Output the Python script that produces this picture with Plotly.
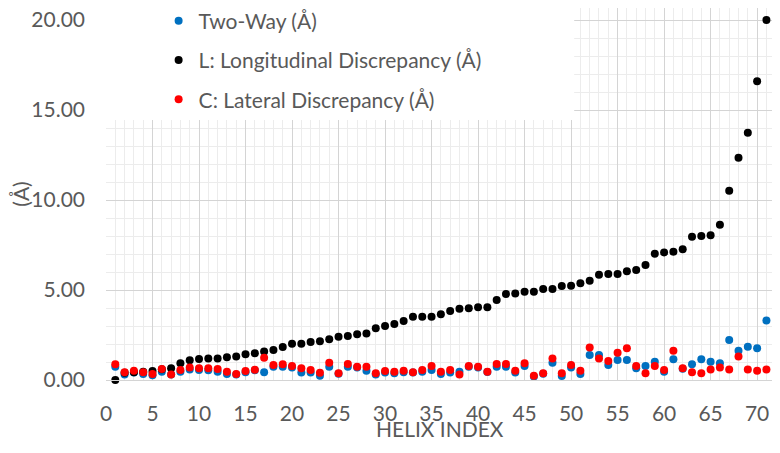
import plotly.graph_objects as go

# helix index 1..71
helix_index = list(range(1, 72))

# Two-Way (Å)
two_way = [
    0.74, 0.31, 0.42, 0.33, 0.26, 0.46, 0.30, 0.46, 0.59, 0.56,
    0.54, 0.46, 0.33, 0.30, 0.43, 0.54, 0.43, 0.74, 0.74, 0.69,
    0.41, 0.41, 0.24, 0.74, 0.35, 0.74, 0.70, 0.52, 0.30, 0.41,
    0.37, 0.43, 0.41, 0.46, 0.56, 0.33, 0.41, 0.46, 0.74, 0.70,
    0.44, 0.74, 0.74, 0.41, 0.78, 0.20, 0.35, 0.96, 0.22, 0.70,
    0.33, 1.39, 1.39, 0.83, 1.11, 1.11, 0.65, 0.78, 1.02, 0.46,
    1.15, 0.62, 0.87, 1.15, 1.02, 0.93, 2.22, 1.63, 1.85, 1.76,
    3.30,
]

# L: Longitudinal Discrepancy (Å)
longitudinal = [
    0.00, 0.40, 0.43, 0.46, 0.50, 0.60, 0.65, 0.93, 1.10, 1.17,
    1.19, 1.20, 1.26, 1.30, 1.43, 1.48, 1.59, 1.67, 1.83, 2.02,
    2.02, 2.11, 2.15, 2.26, 2.41, 2.44, 2.54, 2.59, 2.87, 3.00,
    3.11, 3.28, 3.52, 3.52, 3.52, 3.65, 3.83, 3.96, 3.98, 4.04,
    4.04, 4.44, 4.78, 4.80, 4.91, 4.91, 5.05, 5.06, 5.22, 5.24,
    5.37, 5.52, 5.85, 5.89, 5.89, 6.04, 6.11, 6.39, 7.02, 7.09,
    7.13, 7.26, 7.96, 8.00, 8.04, 8.63, 10.52, 12.35, 13.74, 16.60,
    20.00,
]

# C: Lateral Discrepancy (Å)
lateral = [
    0.87, 0.43, 0.52, 0.43, 0.33, 0.61, 0.31, 0.56, 0.70, 0.65,
    0.65, 0.61, 0.46, 0.33, 0.50, 0.57, 1.24, 0.83, 0.87, 0.78,
    0.65, 0.56, 0.40, 0.96, 0.37, 0.89, 0.74, 0.74, 0.37, 0.50,
    0.46, 0.52, 0.43, 0.56, 0.78, 0.46, 0.56, 0.31, 0.78, 0.74,
    0.46, 0.89, 0.89, 0.52, 0.93, 0.24, 0.37, 1.20, 0.37, 0.83,
    0.52, 1.81, 1.20, 1.06, 1.52, 1.76, 0.78, 0.37, 0.78, 0.56,
    1.63, 0.65, 0.43, 0.37, 0.59, 0.70, 0.59, 1.30, 0.59, 0.52,
    0.59,
]

series = [
    ("Two-Way (Å)", two_way, "#0070C0"),
    ("L: Longitudinal Discrepancy (Å)", longitudinal, "#000000"),
    ("C: Lateral Discrepancy (Å)", lateral, "#FF0000"),
]

FONT = "Lato, Calibri, sans-serif"
GREY = "#595959"

fig = go.Figure()
for i, (name, vals, color) in enumerate(series):
    fig.add_trace(
        go.Scatter(
            x=helix_index,
            y=vals,
            mode="markers",
            name=name,
            legendgroup=f"g{i}",
            marker=dict(color=color, size=8),
            cliponaxis=False,
        )
    )

# page body has an 8px margin; keep the figure inside the window (no scrolling)
fig.update_layout(
    width=764,
    height=437,
    margin=dict(l=98, r=0, t=0, b=65, autoexpand=False),
    plot_bgcolor="white",
    paper_bgcolor="white",
    font=dict(family=FONT, size=21, color=GREY),
    legend=dict(
        x=0.079,
        y=1.02,
        xanchor="left",
        yanchor="top",
        bgcolor="rgba(0,0,0,0)",
        tracegroupgap=9,
        font=dict(size=21, color=GREY),
    ),
    # white box behind the legend, as in the original
    shapes=[
        dict(
            type="rect",
            xref="paper",
            yref="paper",
            x0=-0.002,
            x1=0.703,
            y0=0.699,
            y1=1.0,
            fillcolor="white",
            line=dict(width=0),
            layer="above",
        )
    ],
    # x axis title placed by hand (axis title offset is fixed without automargin)
    annotations=[
        dict(
            text="HELIX INDEX",
            xref="paper",
            yref="paper",
            x=0.501,
            y=-0.13,
            xanchor="center",
            yanchor="middle",
            showarrow=False,
            font=dict(size=21, color=GREY),
        )
    ],
)

fig.update_xaxes(
    range=[0, 71.6],
    dtick=5,
    tick0=0,
    automargin=False,
    showgrid=True,
    gridcolor="#d4d4d4",
    gridwidth=1,
    minor=dict(dtick=1, showgrid=True, gridcolor="#ececec"),
    showline=True,
    linecolor="#d4d4d4",
    zeroline=False,
    ticks="",
    ticklabelstandoff=15,
    ticklabeloverflow="allow",
)

fig.update_yaxes(
    range=[0, 20.67],
    dtick=5,
    tick0=0,
    tickformat=".2f",
    automargin=False,
    showgrid=True,
    gridcolor="#d4d4d4",
    gridwidth=1,
    minor=dict(dtick=1, showgrid=True, gridcolor="#ececec"),
    zeroline=False,
    ticks="",
    ticklabelstandoff=20,
    ticklabeloverflow="allow",
    title=dict(text="(Å)", font=dict(size=21, color=GREY), standoff=8),
)

fig.write_html("out.html")
